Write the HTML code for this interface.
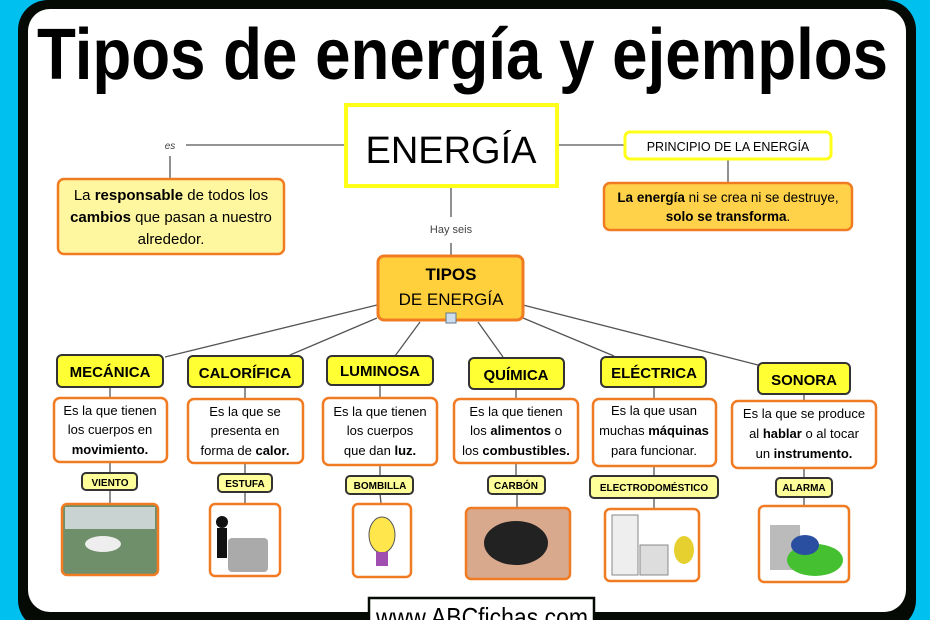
<!DOCTYPE html>
<html><head><meta charset="utf-8"><style>
html,body{margin:0;padding:0;background:#00c0ef;}
svg{display:block;}
text{font-family:"Liberation Sans",sans-serif;}
</style></head><body>
<svg width="930" height="620" viewBox="0 0 930 620" xmlns="http://www.w3.org/2000/svg">
<rect width="930" height="620" fill="#00c0ef"/>
<rect x="18" y="0" width="898" height="630" rx="30" fill="#050a05"/>
<rect x="28" y="9" width="878" height="603" rx="22" fill="#fff"/>
<text x="37" y="79" font-size="72" font-weight="bold" textLength="851" lengthAdjust="spacingAndGlyphs">Tipos de energía y ejemplos</text>

<g stroke="#555" stroke-width="1.3" fill="none">
<line x1="186" y1="145" x2="345" y2="145"/>
<line x1="170" y1="156" x2="170" y2="178"/>
<line x1="558" y1="145" x2="624" y2="145"/>
<line x1="728" y1="160" x2="728" y2="182"/>
<line x1="451" y1="187" x2="451" y2="217"/>
<line x1="451" y1="243" x2="451" y2="255"/>
<line x1="377" y1="305" x2="165" y2="357"/>
<line x1="377" y1="318" x2="290" y2="355"/>
<line x1="420" y1="322" x2="395" y2="356"/>
<line x1="478" y1="322" x2="503" y2="357"/>
<line x1="523" y1="318" x2="614" y2="356"/>
<line x1="523" y1="305" x2="758" y2="365"/>
<line x1="110" y1="387" x2="110" y2="397"/><line x1="110" y1="462" x2="110" y2="472"/><line x1="110" y1="490" x2="110" y2="503"/>
<line x1="245" y1="387" x2="245" y2="398"/><line x1="245" y1="463" x2="245" y2="473"/><line x1="245" y1="492" x2="245" y2="503"/>
<line x1="380" y1="385" x2="380" y2="397"/><line x1="380" y1="465" x2="380" y2="475"/><line x1="380" y1="494" x2="381" y2="503"/>
<line x1="516" y1="389" x2="516" y2="398"/><line x1="516" y1="463" x2="516" y2="475"/><line x1="517" y1="494" x2="517" y2="507"/>
<line x1="654" y1="387" x2="654" y2="398"/><line x1="654" y1="466" x2="654" y2="475"/><line x1="654" y1="498" x2="654" y2="508"/>
<line x1="804" y1="394" x2="804" y2="400"/><line x1="804" y1="468" x2="804" y2="477"/><line x1="804" y1="497" x2="804" y2="505"/>
</g>
<text x="170" y="149" font-size="10" font-style="italic" fill="#444" text-anchor="middle">es</text>
<text x="451" y="233" font-size="11" fill="#444" text-anchor="middle">Hay seis</text>

<rect x="346" y="105" width="211" height="81" fill="#fff" stroke="#ffff1a" stroke-width="4"/>
<text x="451" y="163" font-size="38" text-anchor="middle">ENERGÍA</text>

<rect x="58" y="179" width="226" height="75" rx="6" fill="#fff7a0" stroke="#f07b22" stroke-width="2.5"/>
<g font-size="15" text-anchor="middle"><text x="171" y="200">La <tspan font-weight="bold">responsable</tspan> de todos los</text>
<text x="171" y="222"><tspan font-weight="bold">cambios</tspan> que pasan a nuestro</text>
<text x="171" y="244">alrededor.</text></g>

<rect x="625" y="132" width="206" height="27" rx="5" fill="#fff" stroke="#ffff1a" stroke-width="3"/>
<text x="728" y="151" font-size="12.5" text-anchor="middle">PRINCIPIO DE LA ENERGÍA</text>
<rect x="604" y="183" width="248" height="47" rx="6" fill="#ffd24a" stroke="#f07b22" stroke-width="2.5"/>
<g font-size="13.5" text-anchor="middle"><text x="728" y="202"><tspan font-weight="bold">La energía</tspan> ni se crea ni se destruye,</text>
<text x="728" y="221" font-weight="bold">solo se transforma<tspan font-weight="normal">.</tspan></text></g>

<rect x="378" y="256" width="145" height="64" rx="6" fill="#ffd03c" stroke="#f07b22" stroke-width="3"/>
<g font-size="17" text-anchor="middle"><text x="451" y="280" font-weight="bold">TIPOS</text><text x="451" y="305">DE ENERGÍA</text></g>
<rect x="446" y="313" width="10" height="10" fill="#cde" stroke="#678"/>

<g stroke="#333" stroke-width="2" fill="#ffff33">
<rect x="57" y="355" width="106" height="32" rx="5"/>
<rect x="188" y="356" width="115" height="31" rx="5"/>
<rect x="327" y="356" width="106" height="29" rx="5"/>
<rect x="469" y="358" width="95" height="31" rx="5"/>
<rect x="601" y="357" width="105" height="30" rx="5"/>
<rect x="758" y="363" width="92" height="31" rx="5"/>
</g>
<g font-size="15" font-weight="bold" text-anchor="middle">
<text x="110" y="377">MECÁNICA</text><text x="245" y="378">CALORÍFICA</text><text x="380" y="376">LUMINOSA</text>
<text x="516" y="380">QUÍMICA</text><text x="654" y="378">ELÉCTRICA</text><text x="804" y="385">SONORA</text></g>

<g stroke="#f07b22" stroke-width="2.5" fill="#fff">
<rect x="54" y="398" width="113" height="64" rx="6"/>
<rect x="188" y="399" width="115" height="64" rx="6"/>
<rect x="323" y="398" width="114" height="67" rx="6"/>
<rect x="454" y="399" width="124" height="64" rx="6"/>
<rect x="593" y="399" width="123" height="67" rx="6"/>
<rect x="732" y="401" width="144" height="67" rx="6"/>
</g>
<g font-size="13" text-anchor="middle">
<text x="110" y="415">Es la que tienen</text><text x="110" y="434">los cuerpos en</text><text x="110" y="454" font-weight="bold">movimiento.</text>
<text x="245" y="416">Es la que se</text><text x="245" y="435">presenta en</text><text x="245" y="455">forma de <tspan font-weight="bold">calor.</tspan></text>
<text x="380" y="416">Es la que tienen</text><text x="380" y="435">los cuerpos</text><text x="380" y="455">que dan <tspan font-weight="bold">luz.</tspan></text>
<text x="516" y="416">Es la que tienen</text><text x="516" y="435">los <tspan font-weight="bold">alimentos</tspan> o</text><text x="516" y="455">los <tspan font-weight="bold">combustibles.</tspan></text>
<text x="654" y="415">Es la que usan</text><text x="654" y="435">muchas <tspan font-weight="bold">máquinas</tspan></text><text x="654" y="455">para funcionar.</text>
<text x="804" y="418">Es la que se produce</text><text x="804" y="438">al <tspan font-weight="bold">hablar</tspan> o al tocar</text><text x="804" y="458">un <tspan font-weight="bold">instrumento.</tspan></text>
</g>

<g stroke="#333" stroke-width="2" fill="#ffff99">
<rect x="82" y="473" width="55" height="17" rx="4"/>
<rect x="218" y="474" width="54" height="18" rx="4"/>
<rect x="346" y="476" width="67" height="18" rx="4"/>
<rect x="488" y="476" width="57" height="18" rx="4"/>
<rect x="590" y="476" width="128" height="22" rx="4"/>
<rect x="776" y="478" width="56" height="19" rx="4"/>
</g>
<g font-size="10" font-weight="bold" text-anchor="middle">
<text x="110" y="486">VIENTO</text><text x="245" y="487">ESTUFA</text><text x="380" y="489">BOMBILLA</text>
<text x="516" y="489">CARBÓN</text><text x="654" y="491">ELECTRODOMÉSTICO</text><text x="804" y="491">ALARMA</text></g>

<g stroke="#f07b22" stroke-width="2.5">
<rect x="62" y="504" width="96" height="71" rx="5" fill="#6f8f6a"/>
<rect x="210" y="504" width="70" height="72" rx="5" fill="#fff"/>
<rect x="353" y="504" width="58" height="73" rx="5" fill="#fff"/>
<rect x="466" y="508" width="104" height="71" rx="5" fill="#d9a98e"/>
<rect x="605" y="509" width="94" height="72" rx="5" fill="#fff"/>
<rect x="759" y="506" width="90" height="76" rx="5" fill="#fff"/>
</g>
<rect x="65" y="507" width="90" height="22" fill="#c9d3d2"/>
<ellipse cx="103" cy="544" rx="18" ry="8" fill="#eee"/>
<rect x="228" y="538" width="40" height="34" rx="4" fill="#aaa"/>
<circle cx="222" cy="522" r="6" fill="#111"/>
<rect x="217" y="528" width="10" height="30" fill="#111"/>
<ellipse cx="382" cy="535" rx="13" ry="18" fill="#ffe64d" stroke="#555"/>
<rect x="376" y="552" width="12" height="14" fill="#a04fb0"/>
<ellipse cx="516" cy="543" rx="32" ry="22" fill="#222"/>
<rect x="612" y="515" width="26" height="60" fill="#eee" stroke="#888"/>
<rect x="640" y="545" width="28" height="30" fill="#ddd" stroke="#888"/>
<ellipse cx="684" cy="550" rx="10" ry="14" fill="#e5d030"/>
<rect x="770" y="525" width="30" height="45" fill="#bbb"/>
<ellipse cx="815" cy="560" rx="28" ry="16" fill="#44c031"/>
<ellipse cx="805" cy="545" rx="14" ry="10" fill="#2b4fa0"/>

<rect x="369" y="598" width="225" height="30" fill="#fff" stroke="#050a05" stroke-width="2.5"/>
<text x="376" y="626" font-size="26" textLength="212" lengthAdjust="spacingAndGlyphs">www.ABCfichas.com</text>
</svg>
</body></html>
